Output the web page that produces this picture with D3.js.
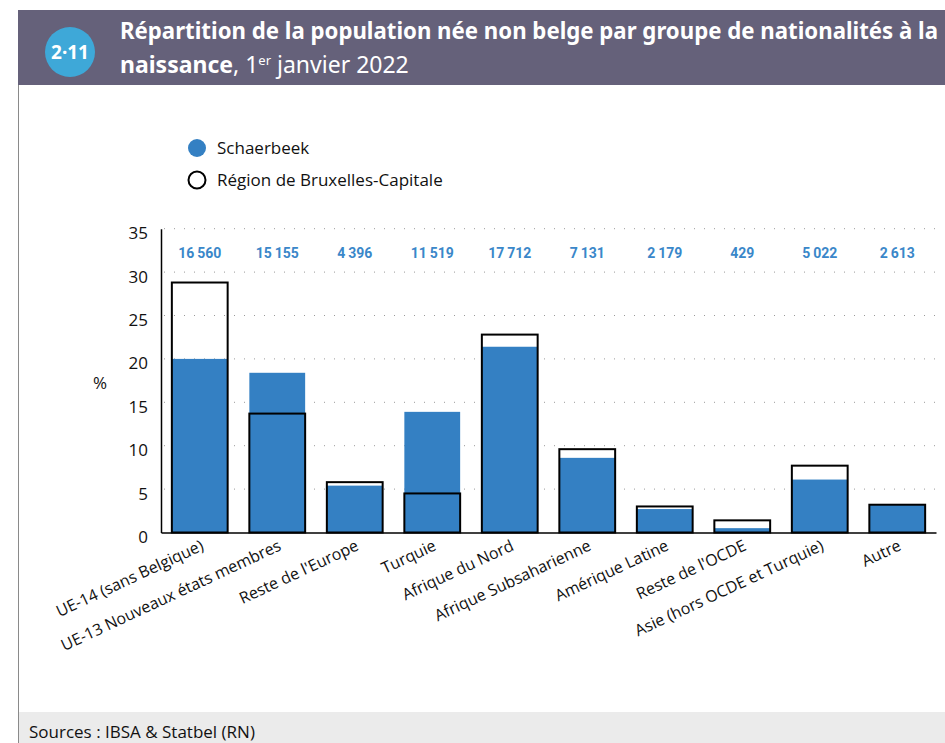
<!DOCTYPE html>
<html>
<head>
<meta charset="utf-8">
<script src="https://cdn.jsdelivr.net/npm/d3@7"></script>
<style>
  body { margin: 0; background: #fff; }
  svg { display: block; }
</style>
</head>
<body>
<div id="chart"></div>
<script>
// groupes de nationalités à la naissance
const categories = [
    "UE-14 (sans Belgique)", "UE-13 Nouveaux états membres", "Reste de l'Europe",
    "Turquie", "Afrique du Nord", "Afrique Subsaharienne", "Amérique Latine",
    "Reste de l'OCDE", "Asie (hors OCDE et Turquie)", "Autre"
];
const schaerbeek = [20.0, 18.4, 5.4, 13.9, 21.4, 8.6, 2.7, 0.5, 6.1, 3.2];
const region = [28.8, 13.7, 5.8, 4.5, 22.8, 9.6, 3.0, 1.4, 7.7, 3.2];
const counts = [16560, 15155, 4396, 11519, 17712, 7131, 2179, 429, 5022, 2613];
const yTicks = [0, 5, 10, 15, 20, 25, 30, 35];

const W = 945, H = 743;
const blue = "#3480c3";

const svg = d3.select("#chart").append("svg")
    .attr("width", W)
    .attr("height", H);

// bandeau titre
svg.append("rect").attr("x", 18).attr("y", 10).attr("width", W - 18).attr("height", 75).attr("fill", "#65617a");
svg.append("circle").attr("cx", 70).attr("cy", 52).attr("r", 25).attr("fill", "#3ea8d8");
svg.append("text").attr("x", 70).attr("y", 59)
    .attr("text-anchor", "middle").attr("fill", "#fff")
    .style("font", "bold 19px 'Noto Sans'")
    .text("2·11");

const title = svg.append("g").attr("fill", "#fff").style("font-family", "'Noto Sans'");
title.append("text").attr("x", 120).attr("y", 39)
    .style("font-size", "23px").style("font-weight", "bold")
    .attr("textLength", 818).attr("lengthAdjust", "spacingAndGlyphs")
    .text("Répartition de la population née non belge par groupe de nationalités à la");
const t2 = title.append("text").attr("x", 120).attr("y", 73).style("font-size", "23px");
t2.append("tspan").style("font-weight", "bold").text("naissance");
t2.append("tspan").text(", 1");
t2.append("tspan").attr("dy", -8).style("font-size", "13px").text("er");
t2.append("tspan").attr("dy", 8).text(" janvier 2022");

// cadre gauche et pied
svg.append("line").attr("x1", 18.5).attr("x2", 18.5).attr("y1", 85).attr("y2", H).attr("stroke", "#8a8a8a");
svg.append("rect").attr("x", 19).attr("y", 712).attr("width", W - 19).attr("height", 31).attr("fill", "#ebebeb");
svg.append("text").attr("x", 29).attr("y", 738)
    .style("font", "17px 'Open Sans'").attr("fill", "#111")
    .text("Sources : IBSA & Statbel (RN)");

// légende
const legend = svg.append("g").style("font", "17px 'Open Sans'").attr("fill", "#111");
legend.append("circle").attr("cx", 197).attr("cy", 148).attr("r", 9).attr("fill", blue);
legend.append("text").attr("x", 217).attr("y", 154).text("Schaerbeek");
legend.append("circle").attr("cx", 197).attr("cy", 180).attr("r", 8.5).attr("fill", "none").attr("stroke", "#000").attr("stroke-width", 2);
legend.append("text").attr("x", 217).attr("y", 186).text("Région de Bruxelles-Capitale");

// échelles
const x = d3.scaleBand()
    .domain(categories)
    .range([161, 936])
    .paddingInner(0.28)
    .paddingOuter(0.14);

const y = d3.scaleLinear()
    .domain([0, 35])
    .range([532.5, 228.7]);

// grille pointillée
svg.append("g")
    .selectAll("line")
    .data(yTicks.filter(d => d > 0))
    .join("line")
    .attr("x1", 164).attr("x2", 936)
    .attr("y1", d => y(d)).attr("y2", d => y(d))
    .attr("stroke", "#999")
    .attr("stroke-width", 1)
    .attr("stroke-dasharray", "1 9");

// barres Schaerbeek
svg.append("g")
    .selectAll("rect")
    .data(categories)
    .join("rect")
    .attr("x", d => x(d))
    .attr("y", (d, i) => y(schaerbeek[i]))
    .attr("width", x.bandwidth())
    .attr("height", (d, i) => y(0) - y(schaerbeek[i]))
    .attr("fill", blue);

// contours Région
svg.append("g")
    .selectAll("rect")
    .data(categories)
    .join("rect")
    .attr("x", d => x(d))
    .attr("y", (d, i) => y(region[i]))
    .attr("width", x.bandwidth())
    .attr("height", (d, i) => y(0) - y(region[i]))
    .attr("fill", "none")
    .attr("stroke", "#000")
    .attr("stroke-width", 2);

// effectifs
const fmt = d3.formatLocale({decimal: ",", thousands: "\u2009", grouping: [3], currency: ["", "€"]}).format(",d");
svg.append("g")
    .selectAll("text")
    .data(categories)
    .join("text")
    .attr("x", d => x(d) + x.bandwidth() / 2)
    .attr("y", 258)
    .attr("text-anchor", "middle")
    .attr("fill", "#3a87c9")
    .style("font", "bold 14px 'Liberation Sans Narrow', 'Roboto'")
    .text((d, i) => fmt(counts[i]));

// axes
const yAxis = svg.append("g")
    .attr("transform", "translate(161,0)")
    .call(d3.axisLeft(y).tickValues(yTicks).tickSize(0).tickPadding(13));
yAxis.select(".domain").attr("stroke", "#000").attr("stroke-width", 1.5);
yAxis.selectAll("text").style("font", "17px 'Open Sans'").attr("fill", "#111").attr("y", 4.5);

const xAxis = svg.append("g")
    .attr("transform", `translate(0,${y(0)})`)
    .call(d3.axisBottom(x).tickSize(0).tickSizeOuter(0));
xAxis.select(".domain").attr("stroke", "#000").attr("stroke-width", 1.5);
xAxis.selectAll("text")
    .style("font", "16px 'Open Sans'")
    .attr("fill", "#111")
    .attr("text-anchor", "end")
    .attr("dy", null)
    .attr("y", 0)
    .attr("transform", "translate(5,17) rotate(-25)");

svg.append("text").attr("x", 100).attr("y", 389)
    .attr("text-anchor", "middle")
    .style("font", "17px 'Open Sans'").attr("fill", "#111")
    .text("%");
</script>
</body>
</html>
